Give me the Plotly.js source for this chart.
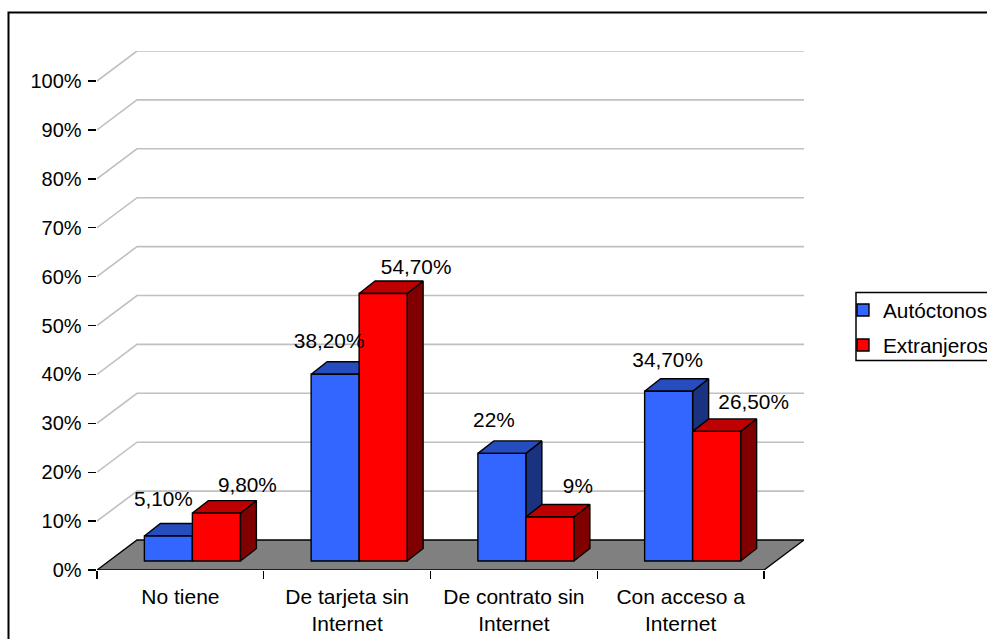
<!DOCTYPE html>
<html>
<head>
<meta charset="utf-8">
<script src="https://cdn.plot.ly/plotly-3.0.1.min.js"></script>
<style>html,body{margin:0;padding:0;background:#fff;overflow:hidden}</style>
</head>
<body>
<div id="chart" style="width:987px;height:639px"></div>
<script>
// Share of phone type by population group
const categories = ['No tiene', 'De tarjeta sin<br>Internet', 'De contrato sin<br>Internet', 'Con acceso a<br>Internet'];
const autoctonos = [5.1, 38.2, 22, 34.7];
const extranjeros = [9.8, 54.7, 9, 26.5];
const autoctonosLabels = ['5,10%', '38,20%', '22%', '34,70%'];
const extranjerosLabels = ['9,80%', '54,70%', '9%', '26,50%'];
const yTicks = [0, 10, 20, 30, 40, 50, 60, 70, 80, 90, 100];
const yTickLabels = ['0%', '10%', '20%', '30%', '40%', '50%', '60%', '70%', '80%', '90%', '100%'];

// Plot frame in pixels: the front plane spans the axes, the rear plane sits up and to the right
const W = 987, H = 639;
const frontL = 97, frontR = 764, frontB = 570, frontT = 81;
const wallDx = 40, wallDy = 30;
const pxX = (frontR - frontL) / categories.length;  // pixels per category
const pxY = (frontB - frontT) / 100;                // pixels per percent

const toX = px => px / pxX;
const toY = px => px / pxY;

// 3D extrusion of the columns, in axis units
const barW = toX(48);
const liftX = toX(12), liftY = toY(9);
const depthX = toX(16), depthY = toY(12.5);

// Pixel nudges of the value labels from the front-top centre of each column
const labelNudgeA = [[-5, 35], [-6, 31], [-8, 32], [-1, 30]];
const labelNudgeB = [[31, 26], [33, 25], [28, 29], [37, 28]];

const FONT = 'Liberation Sans, Arial, sans-serif';
const SIZE = 20.8;

function polyTrace(polys, fill, name) {
  const x = [], y = [];
  polys.forEach(p => {
    p.forEach(pt => { x.push(pt[0]); y.push(pt[1]); });
    x.push(null); y.push(null);
  });
  return {type: 'scatter', mode: 'lines', x, y, fill: 'toself', fillcolor: fill,
    line: {color: '#000', width: 1.4}, hoverinfo: 'skip', showlegend: false, name,
    xaxis: 'x', yaxis: 'y'};
}

function sideFaces(values, offset) {
  return values.map((v, i) => {
    const r = i + 0.5 + liftX + offset + barW, t = liftY + v, b = liftY;
    return [[r, b], [r + depthX, b + depthY], [r + depthX, t + depthY], [r, t], [r, b]];
  });
}
function topFaces(values, offset) {
  return values.map((v, i) => {
    const l = i + 0.5 + liftX + offset, r = l + barW, t = liftY + v;
    return [[l, t], [r, t], [r + depthX, t + depthY], [l + depthX, t + depthY], [l, t]];
  });
}
function frontBars(values, offset, color, name, z) {
  return {type: 'bar', name, x: values.map((v, i) => i + 0.5 + liftX), y: values,
    base: values.map(() => liftY), width: barW, offset,
    marker: {color, line: {color: '#000', width: 1.4}}, zorder: z,
    legendgroup: name, hoverinfo: 'skip', xaxis: 'x', yaxis: 'y'};
}
function labelTrace(values, offset, text, nudges) {
  return {type: 'scatter', mode: 'text', text,
    x: values.map((v, i) => i + 0.5 + liftX + offset + barW / 2 + toX(nudges[i][0])),
    y: values.map((v, i) => liftY + v + toY(nudges[i][1])),
    textposition: 'middle center', textfont: {family: FONT, size: SIZE, color: '#000'},
    cliponaxis: false, hoverinfo: 'skip', showlegend: false, zorder: 6, xaxis: 'x', yaxis: 'y'};
}

// Wall gridlines run from the value axis back to the rear plane and across it
const gridX = [], gridY = [];
yTicks.filter(v => v > 0).forEach(v => {
  gridX.push(0, toX(wallDx), categories.length + toX(wallDx), null);
  gridY.push(v, v + toY(wallDy), v + toY(wallDy), null);
});
const gridTrace = {type: 'scatter', mode: 'lines', x: gridX, y: gridY,
  line: {color: '#c0c0c0', width: 1.6}, hoverinfo: 'skip', showlegend: false, zorder: 0};

const floorTrace = polyTrace([[[0, 0], [categories.length, 0],
  [categories.length + toX(wallDx), toY(wallDy)], [toX(wallDx), toY(wallDy)], [0, 0]]], '#808080', 'suelo');
floorTrace.zorder = 0;

function withZ(t, z) { t.zorder = z; return t; }

// Anchors the visible axes, which only span the front plane
const axisAnchor = {type: 'scatter', mode: 'none', x: [0, categories.length], y: [0, 100],
  xaxis: 'x2', yaxis: 'y2', showlegend: false, hoverinfo: 'skip'};

const data = [
  gridTrace, floorTrace,
  withZ(polyTrace(sideFaces(autoctonos, -barW), '#1a3380', 'a lateral'), 1),
  withZ(polyTrace(topFaces(autoctonos, -barW), '#264dbf', 'a techo'), 1),
  frontBars(autoctonos, -barW, '#3366ff', 'Autóctonos', 2),
  withZ(polyTrace(sideFaces(extranjeros, 0), '#800000', 'e lateral'), 3),
  withZ(polyTrace(topFaces(extranjeros, 0), '#bf0000', 'e techo'), 3),
  frontBars(extranjeros, 0, '#ff0000', 'Extranjeros', 4),
  labelTrace(autoctonos, -barW, autoctonosLabels, labelNudgeA),
  labelTrace(extranjeros, 0, extranjerosLabels, labelNudgeB),
  axisAnchor
];

const plotR = frontR + wallDx, plotT = frontT - wallDy;
const plotWpx = plotR - frontL, plotHpx = frontB - plotT;
const paperX = px => (px - frontL) / plotWpx;
const paperY = py => (frontB - py) / plotHpx;

const layout = {
  width: W, height: H,
  margin: {l: frontL, r: W - plotR, t: plotT, b: H - frontB, pad: 0, autoexpand: false},
  paper_bgcolor: '#fff', plot_bgcolor: 'rgba(0,0,0,0)',
  barmode: 'overlay',
  font: {family: FONT, size: SIZE, color: '#000'},
  xaxis: {domain: [0, 1], range: [0, categories.length + toX(wallDx)], anchor: 'y',
    tickmode: 'array', tickvals: categories.map((c, i) => i + 0.5), ticktext: categories,
    ticks: '', showline: false, showgrid: false, zeroline: false, ticklabelstandoff: 12,
    tickangle: 0, fixedrange: true, tickfont: {family: FONT, size: 21, color: '#000'}},
  yaxis: {domain: [0, 1], range: [0, toY(frontB - plotT)], anchor: 'x', visible: false, fixedrange: true},
  xaxis2: {domain: [0, (frontR - frontL) / plotWpx], range: [0, categories.length], anchor: 'y2',
    tickmode: 'array', tickvals: [0, 1, 2, 3, 4], showticklabels: false, ticks: 'outside',
    ticklen: 8, tickwidth: 1.4, tickcolor: '#000', showline: true, linecolor: '#000', linewidth: 1.4,
    showgrid: false, zeroline: false, fixedrange: true},
  yaxis2: {domain: [0, (frontB - frontT) / plotHpx], range: [0, 100], anchor: 'x2',
    tickmode: 'array', tickvals: yTicks, ticktext: yTickLabels, ticks: 'outside',
    ticklen: 8, tickwidth: 1.4, tickcolor: '#000', showline: true, linecolor: '#000', linewidth: 1.4,
    showgrid: false, zeroline: false, fixedrange: true, ticklabelstandoff: 2,
    tickfont: {family: FONT, size: 20, color: '#000'}},
  showlegend: true,
  legend: {x: paperX(850), xanchor: 'left', y: paperY(290), yanchor: 'top',
    traceorder: 'grouped', tracegroupgap: 5, indentation: -7, bgcolor: 'rgba(0,0,0,0)', borderwidth: 0,
    font: {family: FONT, size: SIZE, color: '#000'}},
  shapes: [
    // Outer chart border, open past the page edge
    {type: 'rect', xref: 'paper', yref: 'paper', layer: 'below',
      x0: paperX(8.5), x1: paperX(W + 20), y0: paperY(H + 20), y1: paperY(12.5),
      line: {color: '#000', width: 2}, fillcolor: 'rgba(0,0,0,0)'},
    // Legend box, also running past the page edge
    {type: 'rect', xref: 'paper', yref: 'paper', layer: 'below',
      x0: paperX(856), x1: paperX(W + 20), y0: paperY(360.5), y1: paperY(292.5),
      line: {color: '#000', width: 1.5}, fillcolor: 'rgba(0,0,0,0)'}
  ]
};

Plotly.newPlot('chart', data, layout, {displayModeBar: false, staticPlot: true});
</script>
</body>
</html>
